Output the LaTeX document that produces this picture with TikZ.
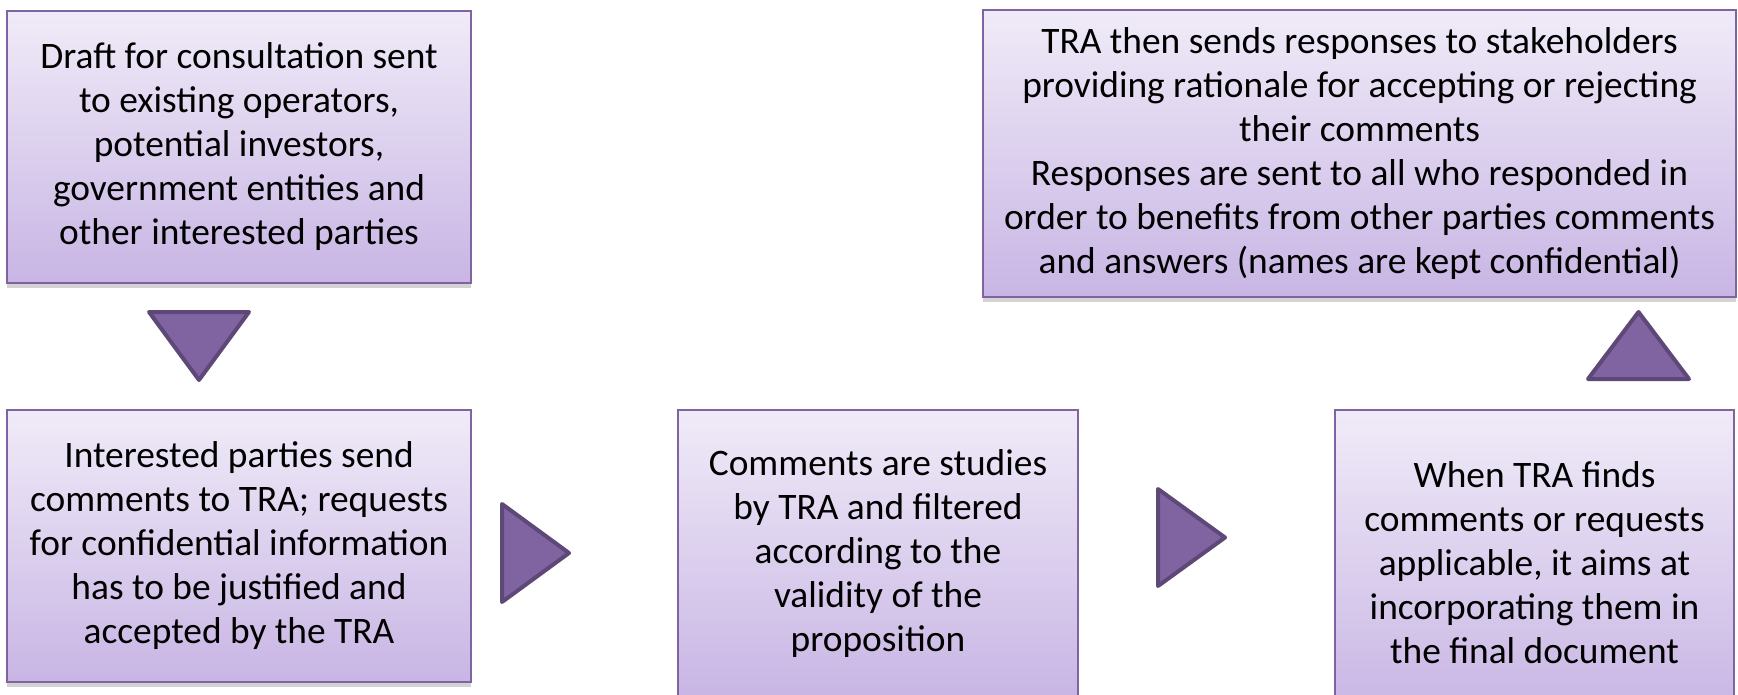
\documentclass[tikz,border=0pt]{standalone}
\usepackage{fontspec}
\setmainfont{Carlito}
\usetikzlibrary{shadows}

\definecolor{boxtop}{RGB}{240,235,248}
\definecolor{boxbot}{RGB}{200,181,228}
\definecolor{boxline}{RGB}{128,100,162}
\definecolor{arrfill}{RGB}{128,100,162}
\definecolor{arrline}{RGB}{93,72,120}

\begin{document}
\begin{tikzpicture}[
		x=0.5pt, y=-0.5pt,
		stagebox/.style={draw=boxline, line width=1pt, top color=boxtop, bottom color=boxbot,
			align=center, inner sep=0pt, font=\fontsize{18.7}{22}\selectfont,
			drop shadow={shadow xshift=0pt, shadow yshift=-2.5pt, opacity=0.35}},
		arr/.style={fill=arrfill, draw=arrline, line width=2pt, line join=round},
		]
		
		\useasboundingbox (0,0) rectangle (1738,695);
		\clip (0,0) rectangle (1738,695);
		
		\node[stagebox, minimum width=232pt, minimum height=136pt] (draft) at (239,147)
			{Draft for consultation sent\\to existing operators,\\potential investors,\\government entities and\\other interested parties};
		\node[stagebox, minimum width=232pt, minimum height=136pt] (send) at (239,546)
			{Interested parties send\\comments to TRA; requests\\for confidential information\\has to be justified and\\accepted by the TRA};
		\node[stagebox, minimum width=200pt, minimum height=144pt] (study) at (878,554)
			{Comments are studies\\by TRA and filtered\\according to the\\validity of the\\proposition};
		\node[stagebox, minimum width=199.5pt, minimum height=153pt] (apply) at (1534.5,563)
			{When TRA finds\\comments or requests\\applicable, it aims at\\incorporating them in\\the final document};
		\node[stagebox, minimum width=376.5pt, minimum height=143.5pt] (reply) at (1359.5,153.5)
			{TRA then sends responses to stakeholders\\providing rationale for accepting or rejecting\\their comments\\Responses are sent to all who responded in\\order to benefits from other parties comments\\and answers (names are kept confidential)};
		
		% arrows between the stages
		\draw[arr] (149,312) -- (249,312) -- (199,380) -- cycle;
		\draw[arr] (502,504) -- (569,553) -- (502,602) -- cycle;
		\draw[arr] (1158,489) -- (1225,537.5) -- (1158,586) -- cycle;
		\draw[arr] (1588,379) -- (1638.5,312) -- (1689,379) -- cycle;
		
	\end{tikzpicture}
\end{document}
